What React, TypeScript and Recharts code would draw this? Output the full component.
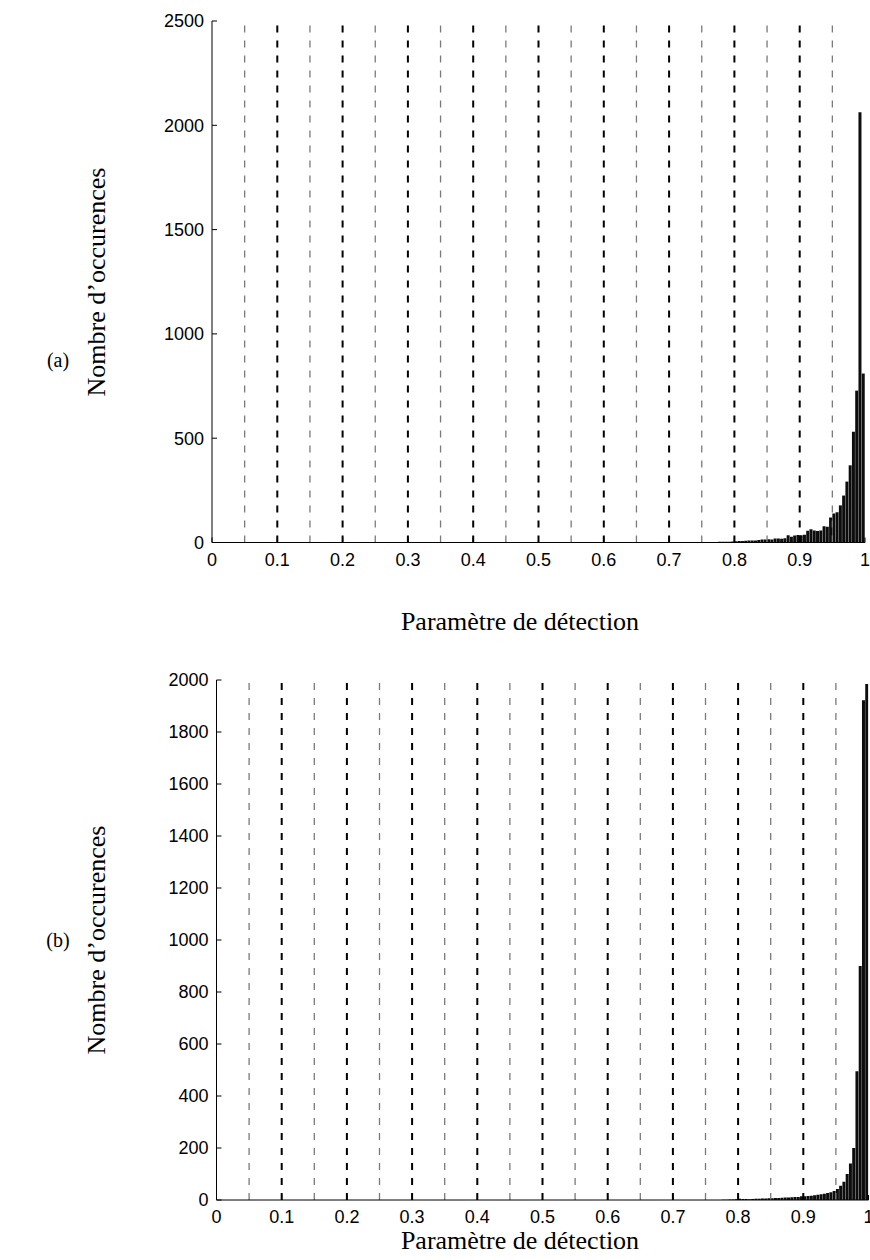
import React from 'react';
import { BarChart, Bar, XAxis, YAxis, ReferenceLine } from 'recharts';

// Histogram bins: width 0.005, first bin starting at 0.75 (all bins below are empty)
const BIN_WIDTH = 0.005;
const BIN_START = 0.75;

const countsA = [
  1, 1, 2, 1, 2, 3, 3, 4, 4, 5,
  6, 7, 7, 8, 9, 10, 10, 12, 14, 14,
  15, 14, 19, 19, 18, 20, 35, 27, 34, 36,
  35, 37, 56, 64, 58, 55, 57, 78, 76, 120,
  139, 145, 178, 225, 292, 370, 531, 728, 2062, 810,
];

const countsB = [
  0, 0, 0, 0, 0, 1, 1, 2, 2, 3,
  5, 4, 4, 3, 4, 5, 5, 6, 6, 7,
  7, 8, 8, 9, 10, 10, 11, 12, 12, 14,
  14, 15, 16, 18, 20, 22, 24, 27, 30, 35,
  42, 55, 70, 100, 140, 200, 495, 900, 1922, 1985,
];

const xTicks = [0, 0.1, 0.2, 0.3, 0.4, 0.5, 0.6, 0.7, 0.8, 0.9, 1];
const yTicksA = [0, 500, 1000, 1500, 2000, 2500];
const yTicksB = [0, 200, 400, 600, 800, 1000, 1200, 1400, 1600, 1800, 2000];
const gridMajor = [0.1, 0.2, 0.3, 0.4, 0.5, 0.6, 0.7, 0.8, 0.9];
const gridMinor = [0.05, 0.15, 0.25, 0.35, 0.45, 0.55, 0.65, 0.75, 0.85, 0.95];

const xLabel = 'Paramètre de détection';
const yLabel = 'Nombre d’occurences';

const toBins = (counts: number[]) =>
  counts.map((c, i) => ({ x: Number((BIN_START + (i + 0.5) * BIN_WIDTH).toFixed(4)), n: c }));

const dataA = toBins(countsA);
const dataB = toBins(countsB);

const tickFont = { fill: '#000', fontSize: 18, fontFamily: '"Liberation Sans", Arial, sans-serif' };
const serif = '"Liberation Serif", "Times New Roman", serif';

type HistProps = {
  data: { x: number; n: number }[];
  yTicks: number[];
  yMax: number;
  height: number;
  margin: { top: number; right: number; bottom: number; left: number };
  yAxisWidth: number;
  xTickMargin: number;
};

function Hist({ data, yTicks, yMax, height, margin, yAxisWidth, xTickMargin }: HistProps) {
  return (
    <BarChart width={870} height={height} data={data} margin={margin} barCategoryGap={0} barGap={0}>
      <XAxis
        xAxisId="b"
        dataKey="x"
        type="number"
        domain={[0, 1]}
        ticks={xTicks}
        interval={0}
        allowDataOverflow
        tickFormatter={(v: number) => String(v)}
        axisLine={{ stroke: '#000', strokeWidth: 1 }}
        tickLine={{ stroke: '#000' }}
        tickSize={-5}
        tickMargin={xTickMargin}
        tick={tickFont}
        height={30}
      />
      <XAxis
        xAxisId="t"
        orientation="top"
        type="number"
        domain={[0, 1]}
        ticks={xTicks}
        interval={0}
        tick={false}
        tickLine={{ stroke: '#000' }}
        tickSize={-5}
        axisLine={{ stroke: '#000', strokeWidth: 1 }}
        height={0}
      />
      <YAxis
        yAxisId="l"
        type="number"
        domain={[0, yMax]}
        ticks={yTicks}
        interval={0}
        allowDataOverflow
        axisLine={{ stroke: '#000', strokeWidth: 1 }}
        tickLine={{ stroke: '#000' }}
        tickSize={-5}
        tickMargin={13}
        tick={tickFont}
        width={yAxisWidth}
      />
      <YAxis
        yAxisId="r"
        orientation="right"
        type="number"
        domain={[0, yMax]}
        ticks={yTicks}
        interval={0}
        tick={false}
        tickLine={{ stroke: '#000' }}
        tickSize={-5}
        axisLine={{ stroke: '#000', strokeWidth: 1 }}
        width={0}
      />
      {gridMinor.map((v) => (
        <ReferenceLine
          key={'m' + v}
          xAxisId="b"
          yAxisId="l"
          x={v}
          stroke="#7a7a7a"
          strokeWidth={1.3}
          strokeDasharray="7 8"
        />
      ))}
      {gridMajor.map((v) => (
        <ReferenceLine
          key={'M' + v}
          xAxisId="b"
          yAxisId="l"
          x={v}
          stroke="#000"
          strokeWidth={2}
          strokeDasharray="7 8"
        />
      ))}
      <Bar xAxisId="b" yAxisId="l" dataKey="n" fill="#0d0d0d" isAnimationActive={false} />
    </BarChart>
  );
}

const abs = (style: React.CSSProperties): React.CSSProperties => ({ position: 'absolute', ...style });

const rotated = (cx: number, cy: number): React.CSSProperties =>
  abs({
    left: cx - 170,
    top: cy - 15,
    width: 340,
    textAlign: 'center',
    fontSize: 26,
    lineHeight: '30px',
    transform: 'rotate(-90deg)',
    whiteSpace: 'nowrap',
  });

const horiz = (cx: number, cy: number): React.CSSProperties =>
  abs({
    left: cx - 200,
    top: cy - 15,
    width: 400,
    textAlign: 'center',
    fontSize: 26,
    lineHeight: '30px',
    whiteSpace: 'nowrap',
  });

const panel = (cy: number): React.CSSProperties =>
  abs({ left: 38, top: cy - 12, width: 40, textAlign: 'center', fontSize: 20, lineHeight: '24px' });

export default function App() {
  return (
    <div style={abs({ left: 0, top: 0, width: 870, height: 1260, background: '#fff', fontFamily: serif, color: '#000' })}>
      <div style={abs({ left: 0, top: 0 })}>
        <Hist
          data={dataA}
          yTicks={yTicksA}
          yMax={2500}
          height={580}
          margin={{ top: 21, right: 5, bottom: 7.5, left: 0 }}
          yAxisWidth={212}
          xTickMargin={15.5}
        />
      </div>
      <div style={abs({ left: 0, top: 640 })}>
        <Hist
          data={dataB}
          yTicks={yTicksB}
          yMax={2000}
          height={600}
          margin={{ top: 40, right: 1.5, bottom: 10, left: 0 }}
          yAxisWidth={216.5}
          xTickMargin={15.5}
        />
      </div>

      <div style={panel(360)}>(a)</div>
      <div style={panel(940)}>(b)</div>

      <div style={rotated(97, 282)}>{yLabel}</div>
      <div style={rotated(97, 940)}>{yLabel}</div>

      <div style={horiz(520, 622)}>{xLabel}</div>
      <div style={horiz(520, 1241)}>{xLabel}</div>
    </div>
  );
}
